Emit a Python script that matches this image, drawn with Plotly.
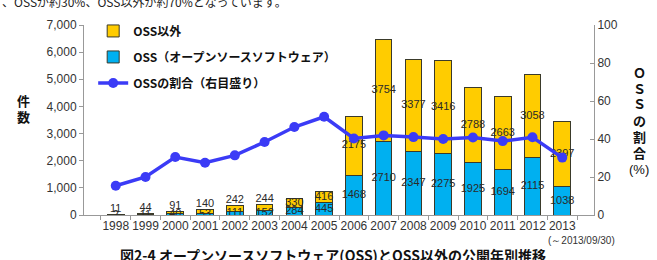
import plotly.graph_objects as go

years = ["1998", "1999", "2000", "2001", "2002", "2003", "2004", "2005",
         "2006", "2007", "2008", "2009", "2010", "2011", "2012", "2013"]
oss = [2, 11, 40, 53, 111, 152, 284, 445, 1468, 2710, 2347, 2275, 1925, 1694, 2115, 1038]
non_oss = [11, 44, 91, 140, 242, 244, 330, 416, 2175, 3754, 3377, 3416, 2788, 2663, 3058, 2397]
oss_ratio = [15.4, 20.0, 30.5, 27.5, 31.4, 38.4, 46.3, 51.7, 40.3, 41.9, 41.0, 40.0, 40.8, 38.9, 40.9, 30.2]

JP = "Noto Sans CJK JP"
NUM = "Liberation Sans"
YELLOW = "#FFCC00"
CYAN = "#00B0F0"
LINE = "#3B3BF6"
EDGE = "#3a3a2a"

fig = go.Figure()

fig.add_trace(go.Bar(
    x=years, y=oss, name="OSS（オープンソースソフトウェア）",
    marker=dict(color=CYAN, line=dict(color=EDGE, width=1)),
    legendrank=2, legendgroup="b", hoverinfo="skip"))
fig.add_trace(go.Bar(
    x=years, y=non_oss, name="OSS以外",
    marker=dict(color=YELLOW, line=dict(color=EDGE, width=1)),
    legendrank=1, legendgroup="a", hoverinfo="skip"))

# data labels
oss_lab_y = [v / 2 for v in oss]
non_lab_y = []
non_lab_pos = []
for o, n in zip(oss, non_oss):
    t = o + n
    if t < 500:
        non_lab_y.append(t)
        non_lab_pos.append("top center")
    else:
        non_lab_y.append(o + n / 2)
        non_lab_pos.append("middle center")

fig.add_trace(go.Scatter(
    x=years, y=oss_lab_y, mode="text", text=[str(v) for v in oss],
    textposition="middle center", textfont=dict(family=NUM, size=11, color="#2a2a2a"),
    showlegend=False, hoverinfo="skip"))
fig.add_trace(go.Scatter(
    x=years, y=non_lab_y, mode="text", text=[str(v) for v in non_oss],
    textposition=non_lab_pos, textfont=dict(family=NUM, size=11, color="#2a2a2a"),
    showlegend=False, hoverinfo="skip"))

fig.add_trace(go.Scatter(
    x=years, y=oss_ratio, yaxis="y2", mode="lines+markers",
    name="OSSの割合（右目盛り）",
    line=dict(color=LINE, width=3.5),
    marker=dict(color=LINE, size=10),
    legendrank=3, legendgroup="c", hoverinfo="skip"))

fig.update_layout(
    width=657, height=260,
    margin=dict(l=84, r=63, t=25, b=45),
    paper_bgcolor="white", plot_bgcolor="white",
    barmode="stack", bargap=0.44,
    showlegend=True,
    legend=dict(x=0.018, y=1.045, xanchor="left", yanchor="top",
                bgcolor="rgba(0,0,0,0)", tracegroupgap=7,
                font=dict(family=JP, size=12, color="#111", weight="bold"),
                traceorder="grouped"),
    xaxis=dict(type="category", tickson="boundaries", ticks="outside", ticklen=4,
               tickangle=0,
               tickcolor="#999", showline=True, linecolor="#999", linewidth=1,
               tickfont=dict(family=NUM, size=12, color="#333"), showgrid=False),
    yaxis=dict(range=[0, 7000], dtick=1000, tickformat=",", ticks="outside", ticklen=4,
               tickcolor="#999", showline=True, linecolor="#999", linewidth=1,
               showgrid=False, zeroline=False,
               tickfont=dict(family=NUM, size=12, color="#333")),
    yaxis2=dict(range=[0, 100], dtick=20, overlaying="y", side="right",
                ticks="inside", ticklen=4, tickcolor="#999",
                showline=True, linecolor="#999", linewidth=1,
                showgrid=False, zeroline=False,
                tickfont=dict(family=NUM, size=12, color="#333")),
    font=dict(family=JP),
)


def px_x(v):
    return (v - 84) / 510


def px_y(v):
    return (215 - v) / 190


def ann(text, x, y, size, family=JP, color="#111", xanchor="center"):
    fig.add_annotation(text=text, xref="paper", yref="paper",
                       x=px_x(x), y=px_y(y), xanchor=xanchor, yanchor="middle",
                       showarrow=False, font=dict(family=family, size=size, color=color))


ann("<b>件</b>", 23, 100, 13)
ann("<b>数</b>", 23, 116, 13)
for i, ch in enumerate(["Ｏ", "Ｓ", "Ｓ", "の", "割", "合"]):
    ann("<b>" + ch + "</b>", 639, 72 + 16 * i, 13)
ann("(%)", 639, 169, 13, family=NUM)
ann("(～2013/09/30)", 581, 240, 10, family=NUM, color="#333")
ann("<b>図2-4 オープンソースソフトウェア(OSS)とOSS以外の公開年別推移</b>", 333, 255, 14)
ann("、OSSが約30%、OSS以外が約70%となっています。", 0, 1, 12, color="#222", xanchor="left")

fig.write_html("out.html")
